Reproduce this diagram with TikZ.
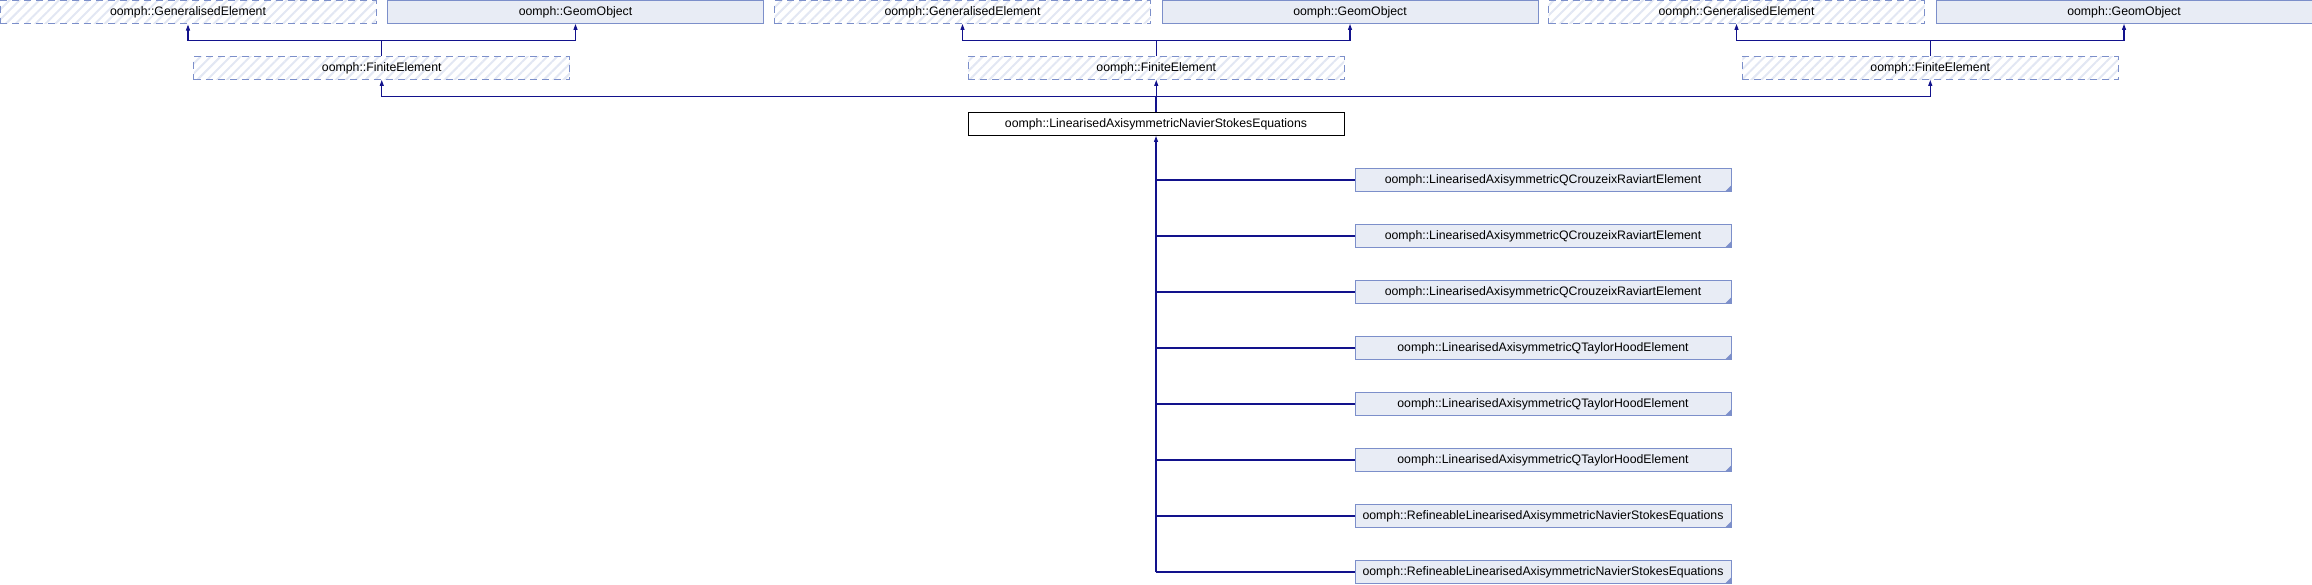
\documentclass[tikz,border=0pt]{standalone}
\usepackage{fontspec}
\setmainfont{Liberation Sans}
\usetikzlibrary{arrows.meta,patterns.meta}

\definecolor{edgeblue}{RGB}{18,18,140}
\definecolor{boxfill}{RGB}{232,236,245}
\definecolor{boxline}{RGB}{124,143,202}
\definecolor{hatchline}{RGB}{226,231,243}

\tikzset{
  cls/.style={minimum width=376pt,minimum height=23pt,inner sep=0pt,line width=0.9pt,
    font=\fontsize{12.3}{14}\selectfont},
  docbox/.style={cls,draw=boxline,fill=boxfill},
  undocbox/.style={cls,draw=boxline,dash pattern=on 7pt off 5pt,
    pattern={Lines[angle=45,distance=7pt,line width=2pt]},pattern color=hatchline},
  mainbox/.style={cls,draw=black,fill=white},
  leafbox/.style={docbox,path picture={
    \fill[boxline] (path picture bounding box.south east) -- ++(-6pt,0pt) -- ++(6pt,6pt) -- cycle;}},
  link/.style={edgeblue,line width=1.1pt},
  edge/.style={link,-{Triangle[width=4pt,length=6pt]}}
}

\begin{document}
\begin{tikzpicture}[x=1pt,y=-1pt]
\useasboundingbox (0,0) rectangle (2312,584);
\coordinate (topbus) at (0,40.3);
\coordinate (febus) at (0,96.3);
\node[mainbox] (main) at (1156,124) {oomph::LinearisedAxisymmetricNavierStokesEquations};
% three copies of the finite element branch
\foreach \x [count=\i] in {188,962.5,1736.5}{
  \node[undocbox] (gen\i) at (\x,12) {oomph::GeneralisedElement};
  \node[docbox] (geo\i) at ({\x+387.5},12) {oomph::GeomObject};
  \node[undocbox] (fe\i) at ({\x+193.75},68) {oomph::FiniteElement};
  \draw[edge] (fe\i.north) -- (fe\i.north |- topbus) -| (gen\i.south);
  \draw[edge] (fe\i.north |- topbus) -| (geo\i.south);
  \draw[edge] (main.north |- febus) -| (fe\i.south);
}
\draw[link] (main.north) -- (main.north |- febus);
% derived elements
\foreach \txt [count=\i] in {
  LinearisedAxisymmetricQCrouzeixRaviartElement,
  LinearisedAxisymmetricQCrouzeixRaviartElement,
  LinearisedAxisymmetricQCrouzeixRaviartElement,
  LinearisedAxisymmetricQTaylorHoodElement,
  LinearisedAxisymmetricQTaylorHoodElement,
  LinearisedAxisymmetricQTaylorHoodElement,
  RefineableLinearisedAxisymmetricNavierStokesEquations,
  RefineableLinearisedAxisymmetricNavierStokesEquations
}{
  \node[leafbox] (leaf\i) at (1543,{124+56*\i}) {oomph::\txt};
  \draw[link] (leaf\i.west) -- (leaf\i.west -| main.south);
}
\draw[edge] (leaf8.west -| main.south) -- (main.south);
\end{tikzpicture}
\end{document}
